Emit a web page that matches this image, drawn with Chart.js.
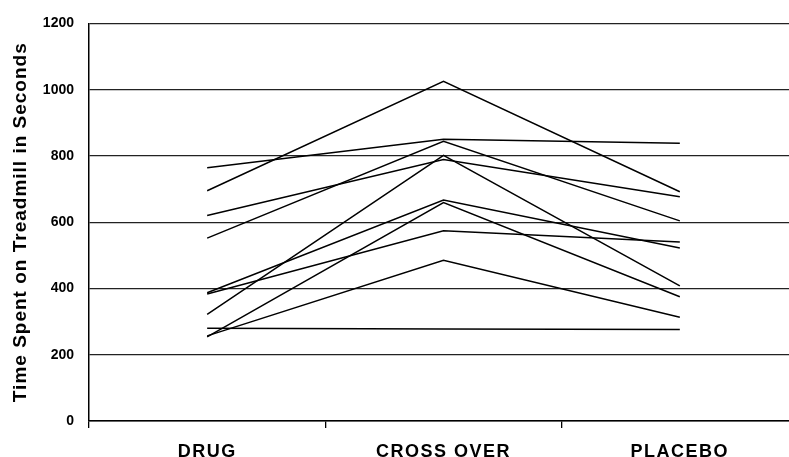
<!DOCTYPE html>
<html>
<head>
<meta charset="utf-8">
<script src="https://cdn.jsdelivr.net/npm/chart.js@4"></script>
<style>
  html, body { margin: 0; padding: 0; background: #fff; overflow: hidden; width: 789px; height: 457px; }
  #wrap { width: 800px; height: 457px; }
</style>
</head>
<body>
<div id="wrap"><canvas id="c" width="800" height="457"></canvas></div>
<script>
const categories = ['DRUG', 'CROSS OVER', 'PLACEBO'];
const yTicks = [0, 200, 400, 600, 800, 1000, 1200];
const yTitle = 'Time Spent on Treadmill in Seconds';

const subject1  = [695, 1025, 692];
const subject2  = [764, 850, 838];
const subject3  = [620, 789, 677];
const subject4  = [552, 844, 604];
const subject5  = [387, 667, 522];
const subject6  = [383, 574, 540];
const subject7  = [322, 802, 408];
const subject8  = [280, 278, 276];
const subject9  = [254, 659, 375];
const subject10 = [257, 485, 313];

const allSubjects = [subject1, subject2, subject3, subject4, subject5,
                     subject6, subject7, subject8, subject9, subject10];

const datasets = allSubjects.map((d, i) => ({
  label: 'Subject ' + (i + 1),
  data: d,
  borderColor: '#000',
  borderWidth: 1.5,
  pointRadius: 0,
  pointHoverRadius: 0,
  tension: 0,
  fill: false
}));

const spacingPlugin = {
  id: 'spacing',
  afterLayout(chart) {
    const x = chart.scales.x, y = chart.scales.y;
    if (!x._wrapped) {
      const orig = x.drawLabels;
      x.drawLabels = function (area) {
        const ctx = this.ctx;
        const prev = ctx.letterSpacing;
        ctx.letterSpacing = '1.5px';
        orig.call(this, area);
        ctx.letterSpacing = prev || '0px';
      };
      x._wrapped = true;
    }
    if (!y._wrapped) {
      const origT = y.drawTitle;
      y.drawTitle = function (area) {
        const ctx = this.ctx;
        const prev = ctx.letterSpacing;
        ctx.letterSpacing = '1px';
        origT.call(this, area);
        ctx.letterSpacing = prev || '0px';
      };
      y._wrapped = true;
    }
  }
};

new Chart(document.getElementById('c'), {
  type: 'line',
  data: { labels: categories, datasets },
  options: {
    responsive: false,
    animation: false,
    layout: { padding: { top: 20, right: 2, left: 0, bottom: 0 } },
    plugins: { legend: { display: false }, tooltip: { enabled: false } },
    scales: {
      x: {
        type: 'category',
        offset: true,
        grid: {
          offset: true,
          drawOnChartArea: false,
          drawTicks: true,
          tickLength: 7,
          color: '#000',
          lineWidth: 1.3
        },
        border: { display: true, color: '#000', width: 1.5 },
        ticks: {
          color: '#000',
          padding: 13,
          font: { family: '"Liberation Sans", Arial, sans-serif', size: 18, weight: 'bold' }
        },
        afterFit(scale) { scale.height = 36; }
      },
      y: {
        min: 0,
        max: 1200,
        afterBuildTicks(scale) { scale.ticks = yTicks.map(v => ({ value: v })); },
        grid: {
          drawTicks: false,
          color: '#222',
          lineWidth: 1.3
        },
        border: { display: true, color: '#000', width: 1.5 },
        ticks: {
          color: '#000',
          padding: 15,
          callback: (v) => String(v),
          font: { family: '"Liberation Sans", Arial, sans-serif', size: 14, weight: 'bold' }
        },
        title: {
          display: true,
          text: yTitle,
          color: '#000',
          padding: { top: 9, bottom: 0 },
          font: { family: '"Liberation Sans", Arial, sans-serif', size: 19, weight: 'bold' }
        },
        afterFit(scale) { scale.width = 89; }
      }
    }
  },
  plugins: [spacingPlugin]
});
</script>
</body>
</html>
